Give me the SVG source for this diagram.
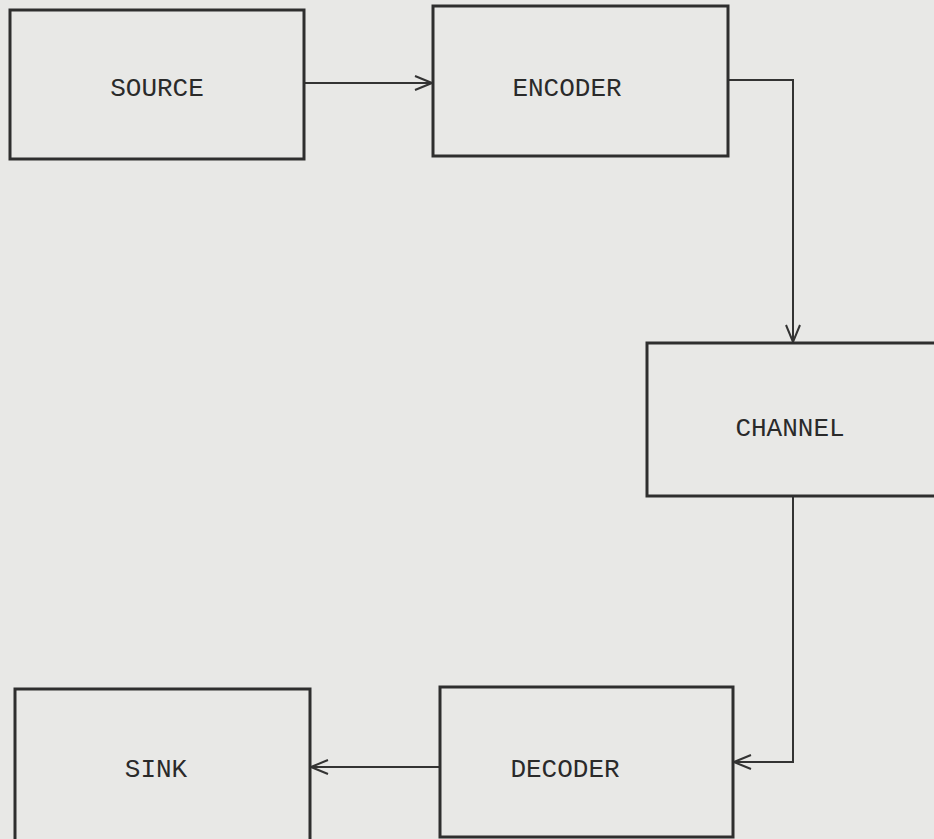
<svg xmlns="http://www.w3.org/2000/svg" width="934" height="839" viewBox="0 0 934 839">
<style>
.box{fill:none;stroke:#2e2e2e;stroke-width:3}
.lbl{font-family:"Liberation Mono","DejaVu Sans Mono",monospace;font-size:26px;fill:#2a2a2a;text-anchor:middle;dominant-baseline:central}
.conn{fill:none;stroke:#333;stroke-width:2}
</style>
<defs>
<marker id="arr" viewBox="0 0 20 20" refX="19" refY="10" markerWidth="20" markerHeight="20" markerUnits="userSpaceOnUse" orient="auto">
<path d="M2,3 L19,10 L2,17" fill="none" stroke="#333" stroke-width="2"/>
</marker>
</defs>
<rect width="934" height="839" fill="#e8e8e6"/>
<g id="connectors">
<path class="conn" d="M304,83 L432,83" marker-end="url(#arr)"/>
<path class="conn" d="M729,80 L793,80 L793,342" marker-end="url(#arr)"/>
<path class="conn" d="M793,497 L793,762 L734,762" marker-end="url(#arr)"/>
<path class="conn" d="M439,767 L311,767" marker-end="url(#arr)"/>
</g>
<g id="source"><rect class="box" x="10" y="10" width="294" height="149"/><text class="lbl" x="157" y="89">SOURCE</text></g>
<g id="encoder"><rect class="box" x="433" y="6" width="295" height="150"/><text class="lbl" x="567" y="89">ENCODER</text></g>
<g id="channel"><rect class="box" x="647" y="343" width="300" height="153"/><text class="lbl" x="790" y="429">CHANNEL</text></g>
<g id="decoder"><rect class="box" x="440" y="687" width="293" height="150"/><text class="lbl" x="565" y="770">DECODER</text></g>
<g id="sink"><rect class="box" x="15" y="689" width="295" height="160"/><text class="lbl" x="156" y="770">SINK</text></g>
</svg>
